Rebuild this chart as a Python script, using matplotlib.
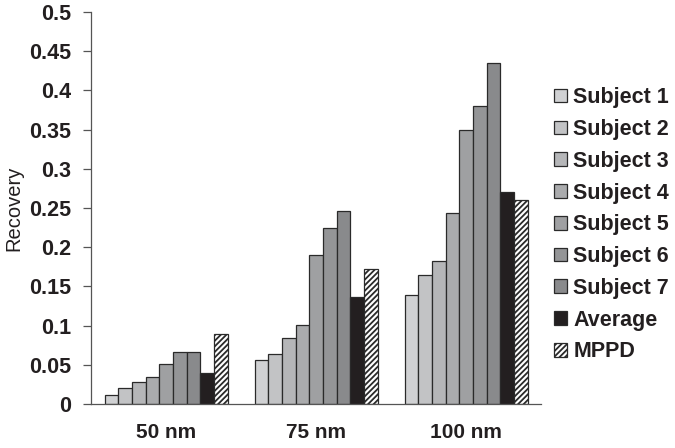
import matplotlib.pyplot as plt
import numpy as np

plt.rcParams['font.family'] = ['Liberation Sans', 'DejaVu Sans']
plt.rcParams['hatch.linewidth'] = 1.3

categories = ['50 nm', '75 nm', '100 nm']
series_names = ['Subject 1', 'Subject 2', 'Subject 3', 'Subject 4', 'Subject 5',
                'Subject 6', 'Subject 7', 'Average', 'MPPD']
subject1 = [0.012, 0.056, 0.139]
subject2 = [0.020, 0.064, 0.164]
subject3 = [0.028, 0.084, 0.183]
subject4 = [0.034, 0.101, 0.244]
subject5 = [0.051, 0.190, 0.349]
subject6 = [0.066, 0.225, 0.380]
subject7 = [0.066, 0.246, 0.435]
average = [0.039, 0.137, 0.270]
mppd = [0.089, 0.172, 0.260]
values = [subject1, subject2, subject3, subject4, subject5, subject6, subject7, average, mppd]

colors = ['#d0d1d3', '#c2c3c5', '#b5b6b8', '#aaabad', '#9fa0a2', '#949597', '#898a8c',
          '#231f20', 'white']

fig = plt.figure(figsize=(6.75, 4.48), dpi=100)
ax = fig.add_axes([91 / 675, 1 - 404 / 448, 450 / 675, 392 / 448])

x = np.arange(len(categories))
n = len(series_names)
w = 0.82 / n
for i, (name, vals) in enumerate(zip(series_names, values)):
    pos = x - 0.41 + w * (i + 0.5)
    hatch = '//////' if name == 'MPPD' else None
    ax.bar(pos, vals, w, color=colors[i], edgecolor='#2a2a2a', linewidth=0.9,
           hatch=hatch, label=name)

ax.set_xlim(-0.5, 2.5)
ax.set_ylim(0, 0.5)
ax.set_yticks(np.arange(0, 0.51, 0.05))
ax.set_yticklabels(['0', '0.05', '0.1', '0.15', '0.2', '0.25', '0.3', '0.35', '0.4', '0.45', '0.5'])
ax.set_xticks(x)
ax.set_xticklabels(categories)
for lbl in ax.get_yticklabels():
    lbl.set_fontweight('bold')
    lbl.set_fontsize(15.5)
    lbl.set_color('#231f20')
for lbl in ax.get_xticklabels():
    lbl.set_fontweight('bold')
    lbl.set_fontsize(15)
    lbl.set_color('#231f20')
ax.tick_params(axis='x', length=0, pad=14)
ax.tick_params(axis='y', length=6, width=0.9, color='#555555', pad=8, direction='out')
ax.spines['top'].set_visible(False)
ax.spines['right'].set_visible(False)
for s in ['left', 'bottom']:
    ax.spines[s].set_color('#555555')
    ax.spines[s].set_linewidth(0.9)
ax.set_ylabel('Recovery', fontsize=14.5, color='#231f20', labelpad=4)

leg = ax.legend(loc='upper left', bbox_to_anchor=(1.01, 0.83), frameon=False,
                prop={'weight': 'bold', 'size': 15.5}, handlelength=0.6, handleheight=0.6,
                handletextpad=0.3, labelspacing=0.5, borderaxespad=0)
for t in leg.get_texts():
    t.set_color('#231f20')

fig.savefig('out.png', dpi=100)
